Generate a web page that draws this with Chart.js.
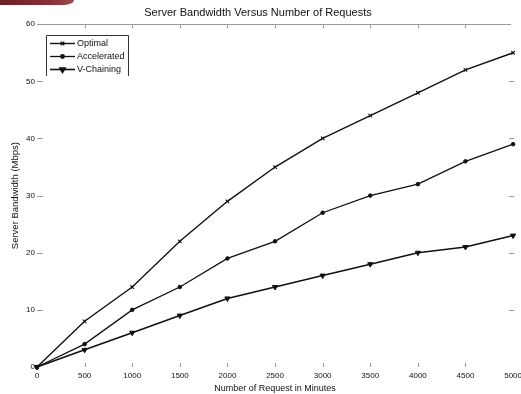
<!DOCTYPE html>
<html>
<head>
<meta charset="utf-8">
<script src="https://cdn.jsdelivr.net/npm/chart.js"></script>
<style>
  html, body { margin:0; padding:0; width:521px; height:394px; overflow:hidden; background:#fff; }
  #wrap { position:relative; width:521px; height:394px; overflow:hidden; }
  #c { position:absolute; left:0; top:0; }
  #deco { position:absolute; left:0; top:0; width:74px; height:5px;
          background:linear-gradient(to right,#6e2028,#8a3038 70%,#9a4a50);
          border-bottom-right-radius:10px 5px; }
</style>
</head>
<body>
<div id="wrap">
<canvas id="c" width="526" height="394"></canvas>
<div id="deco"></div>
</div>
<script>
const chartTitle = "Server Bandwidth Versus Number of Requests";
const xTitle = "Number of Request in Minutes";
const yTitle = "Server Bandwidth (Mbps)";
const requests = [0, 500, 1000, 1500, 2000, 2500, 3000, 3500, 4000, 4500, 5000];
const seriesNames = ["Optimal", "Accelerated", "V-Chaining"];
const optimal     = [0, 8, 14, 22, 29, 35, 40, 44, 48, 52, 55];
const accelerated = [0, 4, 10, 14, 19, 22, 27, 30, 32, 36, 39];
const vChaining   = [0, 3, 6, 9, 12, 14, 16, 18, 20, 21, 23];
const xTicks = [0, 500, 1000, 1500, 2000, 2500, 3000, 3500, 4000, 4500, 5000];
const yTicks = [0, 10, 20, 30, 40, 50, 60];

const toPts = vals => vals.map((v, i) => ({x: requests[i], y: v}));

const styles = [
  {pointStyle:'crossRot', radius:2.5, rotation:0, borderWidth:1.4, pbw:1.1},
  {pointStyle:'circle', radius:1.8, rotation:0, borderWidth:1.3, pbw:1},
  {pointStyle:'triangle', radius:3, rotation:180, borderWidth:1.6, pbw:1}
];
const allVals = [optimal, accelerated, vChaining];

const datasets = allVals.map((vals, i) => ({
  label: seriesNames[i],
  data: toPts(vals),
  borderColor: '#111',
  backgroundColor: '#111',
  borderWidth: styles[i].borderWidth,
  pointStyle: styles[i].pointStyle,
  pointRadius: styles[i].radius,
  pointRotation: styles[i].rotation,
  pointBorderWidth: styles[i].pbw,
  pointBackgroundColor: '#111',
  pointBorderColor: '#111',
  tension: 0,
  clip: false
}));

const frame = {
  id: 'frame',
  afterDatasetsDraw(chart) {
    const ctx = chart.ctx, a = chart.chartArea;
    const xs = chart.scales.x, ys = chart.scales.y;
    ctx.save();
    ctx.strokeStyle = '#9a9a9a';
    ctx.lineWidth = 1;
    ctx.beginPath();
    ctx.moveTo(a.left, Math.round(a.top) + 0.5);
    ctx.lineTo(a.right - 2, Math.round(a.top) + 0.5);
    ctx.stroke();
    const tl = 4;
    ctx.beginPath();
    xs.ticks.forEach(t => {
      const px = Math.round(xs.getPixelForValue(t.value)) + 0.5;
      if (t.value > 0 && t.value < 5000) {
        ctx.moveTo(px, a.top); ctx.lineTo(px, a.top + tl);
        ctx.moveTo(px, a.bottom); ctx.lineTo(px, a.bottom - tl);
      }
    });
    ys.ticks.forEach(t => {
      const py = Math.round(ys.getPixelForValue(t.value)) + 0.5;
      if (t.value > 0) {
        ctx.moveTo(a.left, py); ctx.lineTo(a.left + 6, py);
        if (t.value < 60) { ctx.moveTo(a.right - 4, py); ctx.lineTo(a.right + 1, py); }
      }
    });
    ctx.stroke();
    ctx.restore();

    // legend box
    ctx.save();
    const bx = 46, by = 35, bw = 82, bh = 41;
    ctx.fillStyle = '#fff';
    ctx.fillRect(bx, by, bw, bh);
    ctx.strokeStyle = '#333';
    ctx.lineWidth = 1;
    ctx.beginPath();
    ctx.moveTo(bx + 0.5, by + bh);
    ctx.lineTo(bx + 0.5, by + 0.5);
    ctx.lineTo(bx + bw + 0.5, by + 0.5);
    ctx.lineTo(bx + bw + 0.5, by + bh);
    ctx.stroke();
    chart.data.datasets.forEach((ds, i) => {
      const y = 43.5 + i * 13;
      ctx.strokeStyle = '#111';
      ctx.lineWidth = ds.borderWidth;
      ctx.beginPath();
      ctx.moveTo(50, y); ctx.lineTo(75, y);
      ctx.stroke();
      ctx.fillStyle = '#111';
      Chart.helpers.drawPoint(ctx, {
        pointStyle: ds.pointStyle, radius: ds.pointRadius, rotation: ds.pointRotation,
        borderWidth: ds.pointBorderWidth
      }, 62.5, y);
      ctx.fillStyle = '#111';
      ctx.font = '9px "Liberation Sans", Arial, sans-serif';
      ctx.textBaseline = 'middle';
      ctx.textAlign = 'left';
      ctx.fillText(ds.label, 77, y + 0.5);
    });
    ctx.restore();
  }
};

new Chart(document.getElementById('c'), {
  type: 'line',
  data: { datasets },
  options: {
    responsive: false,
    animation: false,
    devicePixelRatio: 1,
    layout: { padding: { left: 0, right: 10, top: 0, bottom: 0 } },
    plugins: {
      legend: { display: false },
      tooltip: { enabled: false },
      title: {
        display: true, text: chartTitle, color: '#111',
        font: { family: '"Liberation Sans", Arial, sans-serif', size: 11, weight: 'normal' },
        padding: { top: 6, bottom: 5 }
      }
    },
    scales: {
      x: {
        type: 'linear', position: 'bottom', min: 0, max: 5000,
        afterBuildTicks: s => { s.ticks = xTicks.map(v => ({value: v})); },
        afterFit: s => { s.height = 27; },
        ticks: { color: '#111', padding: 4, maxRotation: 0, autoSkip: false,
                 callback: v => String(v),
                 font: { family: '"Liberation Sans", Arial, sans-serif', size: 8 } },
        grid: { display: false, drawTicks: false },
        border: { display: false },
        title: { display: true, text: xTitle, color: '#111', padding: { top: 2, bottom: 0 },
                 font: { family: '"Liberation Sans", Arial, sans-serif', size: 9 } }
      },
      y: {
        type: 'linear', position: 'left', min: 0, max: 60,
        afterBuildTicks: s => { s.ticks = yTicks.map(v => ({value: v})); },
        afterFit: s => { s.width = 37; },
        ticks: { color: '#111', padding: 2, callback: v => String(v),
                 font: { family: '"Liberation Sans", Arial, sans-serif', size: 8 } },
        grid: { display: false, drawTicks: false },
        border: { display: false },
        title: { display: true, text: yTitle, color: '#111', padding: { top: 10, bottom: 0 },
                 font: { family: '"Liberation Sans", Arial, sans-serif', size: 9.5 } }
      }
    }
  },
  plugins: [frame]
});
</script>
</body>
</html>
